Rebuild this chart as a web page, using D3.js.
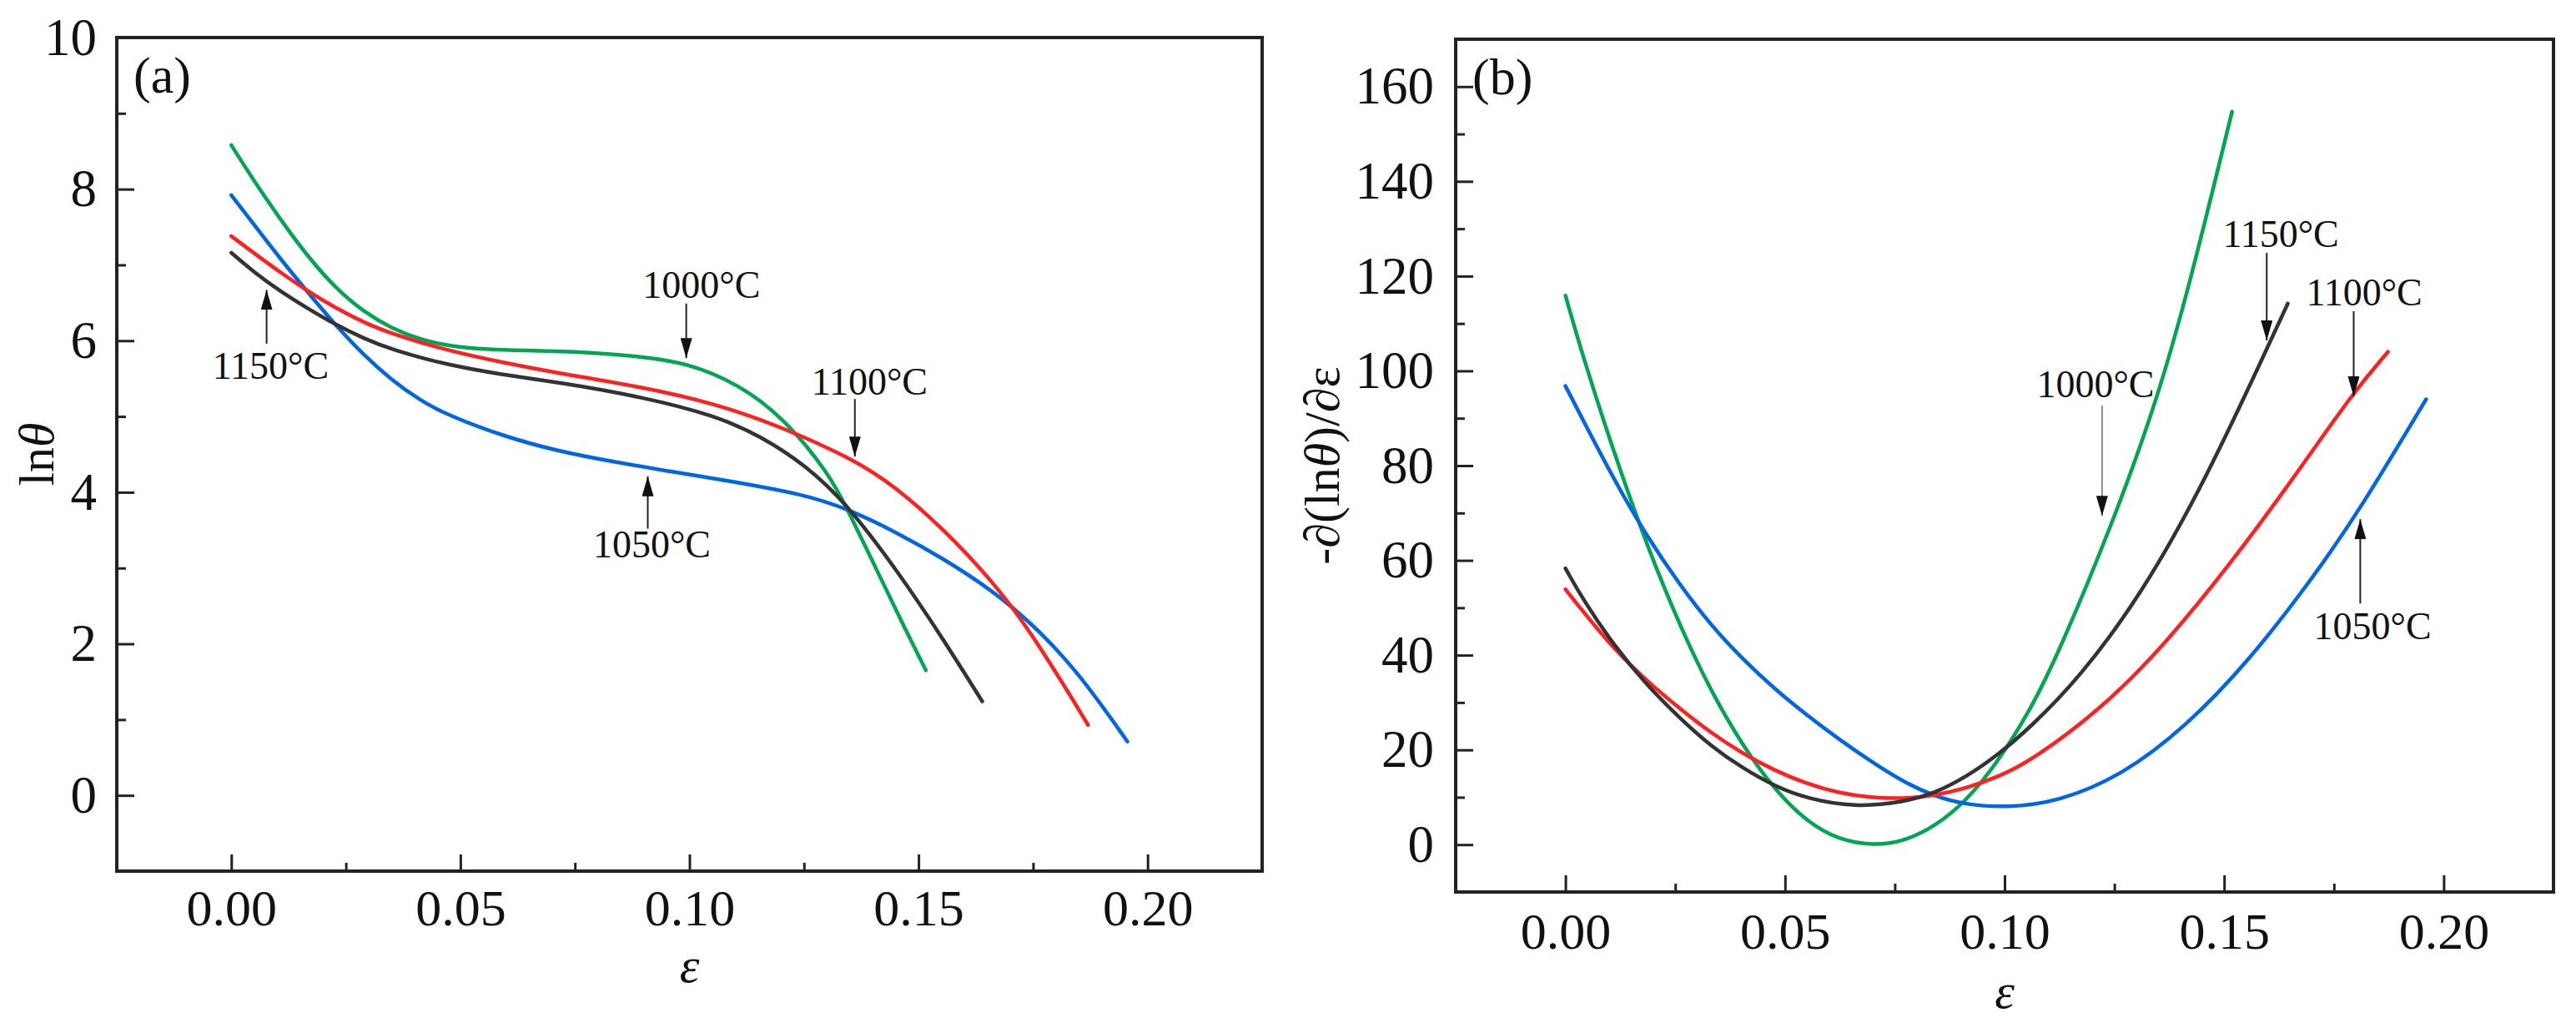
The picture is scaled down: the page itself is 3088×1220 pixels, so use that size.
<!DOCTYPE html>
<html>
<head>
<meta charset="utf-8">
<script src="https://cdn.jsdelivr.net/npm/d3@7/dist/d3.min.js"></script>
<style>
    body { margin: 0; background: #fff; }
    svg { display: block; font-family: "Liberation Serif", "Times New Roman", serif; }
    .tick text { fill: #111; }
</style>
</head>
<body>
<div id="chart"></div>
<script>
// ---- panel (a): ln(theta) vs strain ----
const epsA1000 = [0, 0.0046, 0.0107, 0.0168, 0.0228, 0.0289, 0.035, 0.041, 0.0471, 0.0562, 0.0653, 0.0774, 0.0896, 0.0993, 0.1107, 0.1206, 0.1304, 0.1343, 0.1413, 0.1472, 0.1516];
const lnA1000  = [8.58, 8.14, 7.60, 7.10, 6.69, 6.38, 6.16, 6.02, 5.93, 5.88, 5.87, 5.85, 5.79, 5.71, 5.43, 4.98, 4.25, 3.80, 2.92, 2.18, 1.65];

const epsA1050 = [0, 0.0046, 0.0107, 0.0168, 0.0228, 0.0289, 0.035, 0.041, 0.0471, 0.0593, 0.0714, 0.0836, 0.0951, 0.1057, 0.1255, 0.1353, 0.1452, 0.155, 0.166, 0.1749, 0.1847, 0.1956];
const lnA1050  = [7.92, 7.56, 7.08, 6.63, 6.20, 5.81, 5.48, 5.22, 5.02, 4.74, 4.54, 4.40, 4.28, 4.18, 3.97, 3.76, 3.47, 3.14, 2.71, 2.26, 1.64, 0.71];

const epsA1100 = [0, 0.0046, 0.0107, 0.0168, 0.0228, 0.0289, 0.035, 0.0471, 0.0593, 0.0714, 0.0896, 0.1057, 0.1206, 0.136, 0.1452, 0.155, 0.166, 0.1749, 0.187];
const lnA1100  = [7.38, 7.17, 6.90, 6.65, 6.43, 6.24, 6.09, 5.87, 5.71, 5.57, 5.39, 5.17, 4.85, 4.43, 4.06, 3.54, 2.84, 2.13, 0.93];

const epsA1150 = [0, 0.0046, 0.0107, 0.0168, 0.0228, 0.0289, 0.035, 0.0471, 0.0593, 0.0714, 0.0896, 0.1057, 0.1156, 0.1255, 0.1343, 0.1452, 0.155, 0.1639];
const lnA1150  = [7.16, 6.92, 6.65, 6.42, 6.21, 6.03, 5.88, 5.68, 5.55, 5.45, 5.26, 5.01, 4.74, 4.35, 3.85, 2.98, 2.10, 1.24];

// ---- panel (b): -d(ln theta)/d(eps) vs strain ----
const epsB1000 = [0, 0.004, 0.0113, 0.0186, 0.0259, 0.0331, 0.0404, 0.0477, 0.055, 0.0622, 0.0702, 0.0768, 0.084, 0.0913, 0.0986, 0.1059, 0.1121, 0.1247, 0.1348, 0.1421, 0.1518];
const dB1000   = [115.9, 102.9, 82.0, 63.0, 46.5, 32.4, 20.8, 11.5, 4.8, 1.0, -0.2, 0.6, 3.7, 9.2, 17.6, 28.5, 40.0, 68.0, 94.0, 118.0, 154.7];

const epsB1050 = [0, 0.0113, 0.0186, 0.0259, 0.0331, 0.0404, 0.0477, 0.055, 0.0622, 0.0695, 0.0768, 0.084, 0.0913, 0.1004, 0.1121, 0.1266, 0.1412, 0.1557, 0.1703, 0.181, 0.196];
const dB1050   = [96.8, 76.5, 65.0, 55.0, 46.3, 39.1, 32.8, 27.3, 22.3, 17.6, 13.3, 10.2, 8.4, 7.8, 9.0, 14.5, 24.8, 38.8, 56.4, 70.8, 94.0];

const epsB1100 = [0, 0.004, 0.0113, 0.0186, 0.0259, 0.0331, 0.0404, 0.0477, 0.055, 0.0622, 0.0695, 0.0768, 0.084, 0.0913, 0.0986, 0.1059, 0.1218, 0.1363, 0.1509, 0.1654, 0.1795, 0.1873];
const dB1100   = [53.9, 49.2, 41.0, 34.5, 28.8, 23.6, 19.2, 15.6, 12.8, 10.9, 9.9, 9.7, 10.3, 11.9, 14.3, 17.6, 28.4, 42.0, 58.6, 76.8, 95.6, 104.0];

const epsB1150 = [0, 0.004, 0.0113, 0.0186, 0.0259, 0.0331, 0.0404, 0.0477, 0.055, 0.0659, 0.0768, 0.084, 0.0913, 0.0986, 0.1059, 0.1169, 0.1315, 0.146, 0.1597, 0.1645];
const dB1150   = [58.3, 51.7, 41.7, 33.6, 26.8, 20.8, 16.1, 12.3, 9.7, 7.9, 8.9, 10.8, 14.3, 19.0, 24.8, 35.0, 53.2, 77.4, 104.6, 114.2];

const xTicks = [0, 0.05, 0.10, 0.15, 0.20];
const xMinorTicks = [-0.025, 0.025, 0.075, 0.125, 0.175, 0.225];
const yTicksA = [0, 2, 4, 6, 8, 10];
const yMinorTicksA = [-1, 1, 3, 5, 7, 9];
const yTicksB = [0, 20, 40, 60, 80, 100, 120, 140, 160];
const yMinorTicksB = [-10, 10, 30, 50, 70, 90, 110, 130, 150, 170];

const temps = ["1000\u00B0C", "1050\u00B0C", "1100\u00B0C", "1150\u00B0C"];
const colors = ["#00a651", "#0066e6", "#ff2020", "#333333"];

// annotation: [label, arrow x, arrow tail y, arrow tip y, label x, label baseline y] in data units
const notesA = [
    [temps[3], 0.0077, 5.96, 6.67, 0.0086, 5.50],
    [temps[0], 0.0993, 6.49, 5.77, 0.1026, 6.56],
    [temps[2], 0.1361, 5.23, 4.47, 0.1393, 5.29],
    [temps[1], 0.0909, 3.52, 4.21, 0.0918, 3.14]
];
const notesB = [
    [temps[3], 0.1597, 124.9, 106.4, 0.1629, 126.2],
    [temps[2], 0.1795, 112.6, 94.6, 0.1819, 113.8],
    [temps[0], 0.1222, 92.7, 69.4, 0.1207, 94.4],
    [temps[1], 0.1810, 50.9, 68.7, 0.1838, 43.3]
];

const width = 3088, height = 1220;

const svg = d3.select("#chart").append("svg")
    .attr("width", width)
    .attr("height", height);

svg.append("defs").append("marker")
    .attr("id", "head")
    .attr("markerUnits", "userSpaceOnUse")
    .attr("viewBox", "0 0 24 14")
    .attr("refX", 24)
    .attr("refY", 7)
    .attr("markerWidth", 24)
    .attr("markerHeight", 14)
    .attr("orient", "auto")
    .append("path")
    .attr("d", "M0,0 L24,7 L0,14 Z")
    .attr("fill", "#111");

function drawPanel(cfg) {
    const x = d3.scaleLinear().domain([-0.025, 0.225]).range([cfg.left, cfg.right]);
    const y = d3.scaleLinear().domain(cfg.yDomain).range([cfg.bottom, cfg.top]);
    const g = svg.append("g");

    // minor ticks
    g.append("g")
        .attr("transform", `translate(0,${cfg.bottom})`)
        .call(d3.axisBottom(x).tickValues(xMinorTicks).tickSize(-10).tickFormat(""))
        .call(a => a.select(".domain").remove());
    g.append("g")
        .attr("transform", `translate(${cfg.left},0)`)
        .call(d3.axisLeft(y).tickValues(cfg.yMinor).tickSize(-11).tickFormat(""))
        .call(a => a.select(".domain").remove());

    // major ticks
    g.append("g")
        .attr("transform", `translate(0,${cfg.bottom})`)
        .call(d3.axisBottom(x).tickValues(xTicks).tickSize(-20).tickPadding(cfg.xPad).tickFormat(d3.format(".2f")))
        .call(a => a.select(".domain").remove())
        .call(a => a.selectAll("text").attr("font-size", 62));
    g.append("g")
        .attr("transform", `translate(${cfg.left},0)`)
        .call(d3.axisLeft(y).tickValues(cfg.yTicks).tickSize(-21).tickPadding(cfg.yPad).tickFormat(d3.format("d")))
        .call(a => a.select(".domain").remove())
        .call(a => a.selectAll("text").attr("font-size", 63));

    g.selectAll(".tick line").attr("stroke", "#222").attr("stroke-width", 3);
    g.selectAll(".tick text").attr("font-family", "Liberation Serif");

    // frame
    g.append("rect")
        .attr("x", cfg.left)
        .attr("y", cfg.top)
        .attr("width", cfg.right - cfg.left)
        .attr("height", cfg.bottom - cfg.top)
        .attr("fill", "none")
        .attr("stroke", "#222")
        .attr("stroke-width", 4);

    // curves
    const line = d3.line()
        .x(d => x(d[0]))
        .y(d => y(d[1]))
        .curve(d3.curveBasis);

    cfg.series.forEach((s, i) => {
        const pts = s[0].map((e, j) => [e, s[1][j]]);
        g.append("path")
            .datum(pts)
            .attr("d", line)
            .attr("fill", "none")
            .attr("stroke", colors[i])
            .attr("stroke-width", 4.5)
            .attr("stroke-linecap", "round");
    });

    // annotations
    cfg.notes.forEach(n => {
        g.append("line")
            .attr("x1", x(n[1])).attr("y1", y(n[2]))
            .attr("x2", x(n[1])).attr("y2", y(n[3]))
            .attr("stroke", n[0] === temps[0] && cfg.name === "(b)" ? "#888" : "#222")
            .attr("stroke-width", 2)
            .attr("marker-end", "url(#head)");
        g.append("text")
            .attr("x", x(n[4]))
            .attr("y", y(n[5]))
            .attr("text-anchor", "middle")
            .attr("font-size", 46)
            .attr("fill", "#111")
            .text(n[0]);
    });

    // panel name
    g.append("text")
        .attr("x", cfg.left + 20)
        .attr("y", cfg.top + 66)
        .attr("font-size", 62)
        .attr("fill", "#111")
        .text(cfg.name);

    // x label
    g.append("text")
        .attr("x", (cfg.left + cfg.right) / 2)
        .attr("y", cfg.xLabelY)
        .attr("text-anchor", "middle")
        .attr("font-size", 60)
        .attr("font-style", "italic")
        .attr("fill", "#111")
        .text("\u03B5");

    // y label
    const yl = g.append("text")
        .attr("transform", `translate(${cfg.yLabelX},${(cfg.top + cfg.bottom) / 2}) rotate(-90)`)
        .attr("text-anchor", "middle")
        .attr("font-size", 60)
        .attr("fill", "#111");
    cfg.yLabel.forEach(part => {
        yl.append("tspan")
            .attr("font-style", part[1] ? "italic" : "normal")
            .text(part[0]);
    });
}

drawPanel({
    name: "(a)",
    left: 140, right: 1513, top: 45, bottom: 1044,
    yDomain: [-1, 10],
    yTicks: yTicksA, yMinor: yMinorTicksA,
    xPad: 21, yPad: 24,
    xLabelY: 1177, yLabelX: 64,
    yLabel: [["ln", false], ["\u03B8", true]],
    series: [[epsA1000, lnA1000], [epsA1050, lnA1050], [epsA1100, lnA1100], [epsA1150, lnA1150]],
    notes: notesA
});

drawPanel({
    name: "(b)",
    left: 1745, right: 3061, top: 47, bottom: 1069,
    yDomain: [-10, 170],
    yTicks: yTicksB, yMinor: yMinorTicksB,
    xPad: 24, yPad: 26,
    xLabelY: 1208, yLabelX: 1605,
    yLabel: [["-\u2202(ln", false], ["\u03B8", true], [")/\u2202\u03B5", false]],
    series: [[epsB1000, dB1000], [epsB1050, dB1050], [epsB1100, dB1100], [epsB1150, dB1150]],
    notes: notesB
});
</script>
</body>
</html>
